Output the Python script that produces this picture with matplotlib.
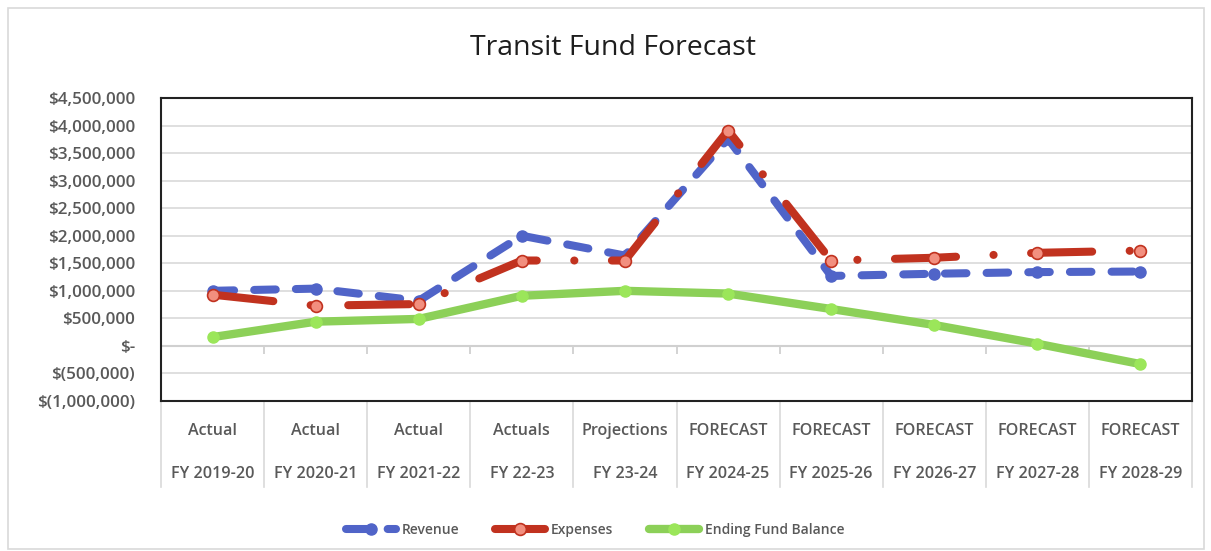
import matplotlib
matplotlib.use("Agg")
import matplotlib.pyplot as plt
import matplotlib.ticker as mticker
import matplotlib.transforms as mtransforms
from matplotlib import font_manager
from matplotlib.patches import Rectangle
import numpy as np

# ---- data ----
row1_labels = ["Actual", "Actual", "Actual", "Actuals", "Projections",
               "FORECAST", "FORECAST", "FORECAST", "FORECAST", "FORECAST"]
row2_labels = ["FY 2019-20", "FY 2020-21", "FY 2021-22", "FY 22-23", "FY 23-24",
               "FY 2024-25", "FY 2025-26", "FY 2026-27", "FY 2027-28", "FY 2028-29"]
revenue = [1000000, 1040000, 820000, 2000000, 1640000,
           3760000, 1270000, 1310000, 1340000, 1350000]
expenses = [930000, 730000, 760000, 1550000, 1550000,
            3910000, 1550000, 1600000, 1690000, 1730000]
fund_balance = [160000, 440000, 490000, 910000, 1000000,
                950000, 670000, 380000, 40000, -330000]
series_names = ["Revenue", "Expenses", "Ending Fund Balance"]

plt.rcParams['font.family'] = ['Open Sans', 'DejaVu Sans']
plt.rcParams['lines.scale_dashes'] = False

# look for a semibold Open Sans face; fall back to bold
semi_file = None
for f in font_manager.fontManager.ttflist:
    if 'Open Sans' in f.name and f.weight in (600, 'semibold', 'demibold') \
            and f.style == 'normal' and 'Condensed' not in f.name:
        semi_file = f.fname
        break


def fp(size):
    if semi_file:
        return font_manager.FontProperties(fname=semi_file, size=size)
    return font_manager.FontProperties(family='Open Sans', weight='bold', size=size * 0.96)


W, H = 1211, 551
fig = plt.figure(figsize=(W / 100, H / 100), dpi=100)
ax = fig.add_axes([161 / W, 1 - 401 / H, (1192 - 161) / W, (401 - 98) / H])

x = np.arange(len(row2_labels))

txt_col = "#595959"

ax.set_ylim(-1000000, 4500000)
ax.set_xlim(-0.5, len(x) - 0.5)
ax.yaxis.set_major_locator(mticker.MultipleLocator(500000))


def fmt(v, pos):
    if abs(v) < 1:
        return "$-"
    if v < 0:
        return "$({:,.0f})".format(-v)
    return "${:,.0f}".format(v)


ax.yaxis.set_major_formatter(mticker.FuncFormatter(fmt))
ax.grid(axis='y', color="#d9d9d9", linewidth=1.2, zorder=0)
ax.set_axisbelow(True)
ax.tick_params(axis='y', length=0, pad=18.5, labelcolor=txt_col)
for lbl in ax.get_yticklabels():
    lbl.set_fontproperties(fp(12.3))
ax.set_xticks([])
for s in ax.spines.values():
    s.set_color("#222222")
    s.set_linewidth(1.5)

# category axis at zero
ax.axhline(0, color="#d0d0d0", linewidth=1.5, zorder=1)
bounds = np.arange(len(x) + 1) - 0.5
ax.vlines(bounds[1:-1], -140000, 0, color="#d0d0d0", linewidth=1.3, zorder=1)

# series
l1, = ax.plot(x, revenue, color="#5064c8", linewidth=5.8, marker='o', markersize=8,
              markerfacecolor="#5064c8", markeredgecolor="#5064c8",
              dash_capstyle='round', solid_capstyle='round', zorder=3,
              label=series_names[0])
l1.set_dashes((15.5, 14.5))
l2, = ax.plot(x, expenses, color="#c1321f", linewidth=5.8, marker='o', markersize=8.5,
              markerfacecolor="#f28f7f", markeredgecolor="#c1321f", markeredgewidth=1.2,
              dash_capstyle='round', solid_capstyle='round', zorder=4,
              label=series_names[1])
l2.set_dashes((44, 27, 0.1, 27))
l3, = ax.plot(x, fund_balance, color="#8cd058", linewidth=6, marker='o', markersize=8,
              markerfacecolor="#9be65a", markeredgecolor="#9be65a",
              solid_capstyle='round', zorder=5, label=series_names[2])

# multi-level category labels
trans = mtransforms.blended_transform_factory(ax.transData, ax.transAxes)
for i in x:
    ax.text(i, -0.099, row1_labels[i], transform=trans, ha='center', va='center',
            fontproperties=fp(11.6), color=txt_col)
    ax.text(i, -0.241, row2_labels[i], transform=trans, ha='center', va='center',
            fontproperties=fp(11.6), color=txt_col)
for b in bounds:
    ax.plot([b, b], [0, -0.284], transform=trans, color="#d9d9d9", linewidth=1.2,
            clip_on=False, zorder=1)

# title
fig.text(613 / W, 1 - 48 / H, "Transit Fund Forecast", ha='center', va='center',
         fontsize=20.5, color="#1e1e1e")

# legend
leg = fig.legend(handles=[l1, l2, l3], loc='center', bbox_to_anchor=(595 / W, 1 - 530 / H),
                 ncol=3, frameon=False, prop=fp(10), handlelength=3.6,
                 columnspacing=2.6, handletextpad=0.4, labelcolor=txt_col)

# outer chart border
fig.patches.append(Rectangle((8 / W, 2 / H), (1204 - 8) / W, (543 - 2) / H,
                             transform=fig.transFigure, fill=False,
                             edgecolor="#d9d9d9", linewidth=1.2))

fig.savefig("out.png", dpi=100)
